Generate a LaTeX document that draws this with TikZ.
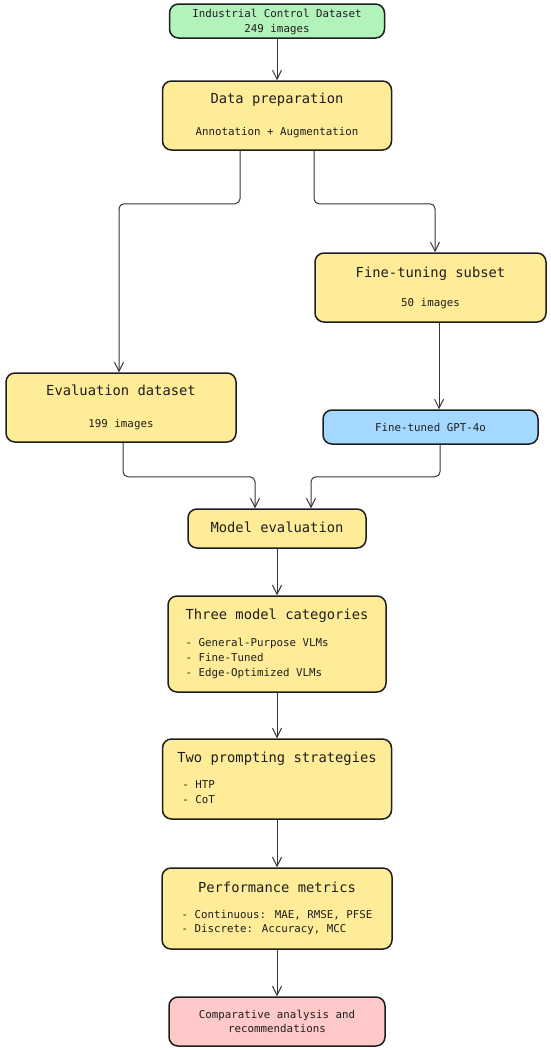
\documentclass[tikz,border=0pt]{standalone}
\usepackage{fontspec}
\setmainfont{DejaVu Sans Mono}
\usetikzlibrary{arrows.meta,positioning}
\definecolor{srcgreen}{HTML}{B2F2BB}
\definecolor{stageyellow}{HTML}{FFEC99}
\definecolor{modelblue}{HTML}{A5D8FF}
\definecolor{resultpink}{HTML}{FFC9C9}
\definecolor{inkgray}{HTML}{1E1E1E}
% larger font for the box titles
\newcommand{\boxtitle}[1]{{\fontsize{13.8}{14.8}\selectfont #1}}
% a little extra height above the first line
\newcommand{\toppad}{\rule{0pt}{12.5pt}}

\begin{document}
\begin{tikzpicture}[x=1pt, y=-1pt, font=\fontsize{10.8}{14.8}\selectfont, >={Straight Barb[length=9pt,width=9pt]},
	stage/.style={draw=inkgray, line width=1.5pt, rounded corners=9pt, fill=stageyellow, text=inkgray, inner sep=0pt},
	link/.style={draw=inkgray!90, line width=1pt, rounded corners=5pt, ->}]
	\useasboundingbox (0,0) rectangle (550,1050);

	%sources and preparation
	\node[stage, fill=srcgreen, minimum width=215pt, minimum height=34pt] (src) at (277,21)
		{\begin{tabular}{@{}c@{}}\toppad Industrial Control Dataset\\249 images\end{tabular}};
	\node[stage, minimum width=229pt, minimum height=69pt] (prep) at (277,115.5)
		{\begin{tabular}{@{}c@{}}\toppad\boxtitle{Data preparation}\\[17.2pt]Annotation + Augmentation\end{tabular}};

	%the two subsets
	\node[stage, minimum width=230pt, minimum height=69pt] (evalset) at (121,407.5)
		{\begin{tabular}{@{}c@{}}\toppad\boxtitle{Evaluation dataset}\\[17.2pt]199 images\end{tabular}};
	\node[stage, minimum width=231pt, minimum height=69pt] (tuneset) at (430.5,287.5)
		{\begin{tabular}{@{}c@{}}\toppad\boxtitle{Fine-tuning subset}\\[14.2pt]50 images\end{tabular}};
	\node[stage, fill=modelblue, minimum width=215pt, minimum height=34pt] (gpt) at (430.5,427)
		{\begin{tabular}{@{}c@{}}\toppad Fine-tuned GPT-4o\end{tabular}};

	%evaluation chain
	\node[stage, minimum width=178pt, minimum height=39pt] (model) at (277,528.5)
		{\begin{tabular}{@{}c@{}}\toppad\boxtitle{Model evaluation}\end{tabular}};
	\node[stage, minimum width=218pt, minimum height=96pt] (cats) at (277,644)
		{\begin{tabular}{@{}l@{}}\multicolumn{1}{@{}c@{}}{\toppad\boxtitle{Three model categories}}\\[12.2pt]
		- General-Purpose VLMs\\- Fine-Tuned\\- Edge-Optimized VLMs\end{tabular}};
	\node[stage, minimum width=229pt, minimum height=80pt] (prompts) at (277,779)
		{\begin{tabular}{@{}l@{}}\multicolumn{1}{@{}c@{}}{\toppad\boxtitle{Two prompting strategies}}\\[11.2pt]
		\hspace{5pt}- HTP\\\hspace{5pt}- CoT\end{tabular}};
	\node[stage, minimum width=230pt, minimum height=81pt] (metrics) at (277,908.5)
		{\begin{tabular}{@{}l@{}}\multicolumn{1}{@{}c@{}}{\toppad\boxtitle{Performance metrics}}\\[11.2pt]
		- Continuous: MAE, RMSE, PFSE\\- Discrete: Accuracy, MCC\end{tabular}};
	\node[stage, fill=resultpink, minimum width=216pt, minimum height=49pt] (result) at (277,1021.5)
		{\begin{tabular}{@{}c@{}}\toppad Comparative analysis and\\recommendations\end{tabular}};

	%connectors
	\draw[link] (src) -- (prep);
	\draw[link] ([xshift=-37pt]prep.south) -- ++(0,53) -| ([xshift=-2pt]evalset.north);
	\draw[link] ([xshift=37pt]prep.south) -- ++(0,53) -| ([xshift=4.5pt]tuneset.north);
	\draw[link] ([xshift=8.5pt]tuneset.south) -- ([xshift=8.5pt]gpt.north);
	\draw[link] ([xshift=2pt]evalset.south) -- ++(0,34) -| ([xshift=-22pt]model.north);
	\draw[link] ([xshift=9.5pt]gpt.south) -- ++(0,32) -| ([xshift=34pt]model.north);
	\draw[link] (model) -- (cats);
	\draw[link] (cats) -- (prompts);
	\draw[link] (prompts) -- (metrics);
	\draw[link] (metrics) -- (result);

\end{tikzpicture}
\end{document}
